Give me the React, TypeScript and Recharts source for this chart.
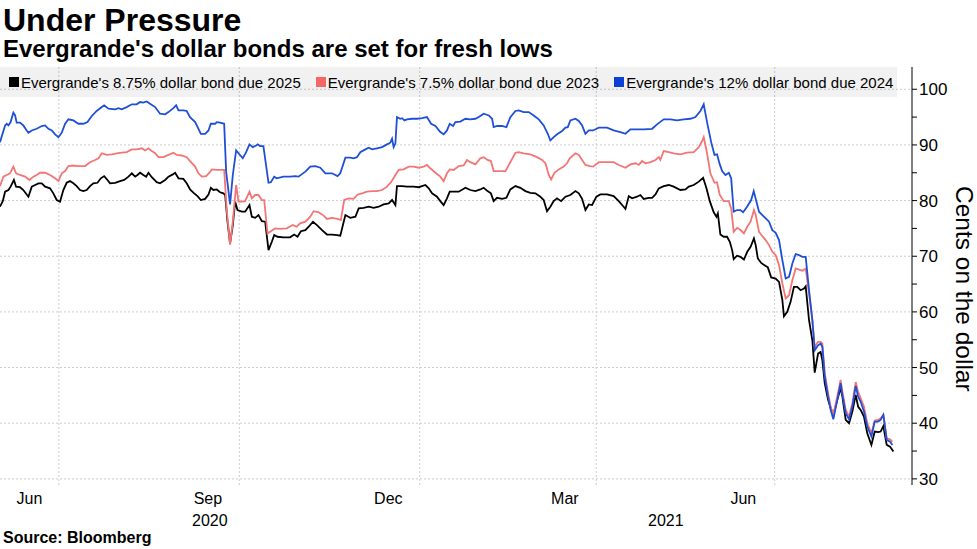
import { LineChart, Line, XAxis, YAxis, CartesianGrid } from 'recharts'

// ─── Data ─────────────────────────────────────────────────────────────────────
// x values are days since 2020-06-01

const START = Date.UTC(2020, 5, 1)
const dayOf = (iso: string) => (Date.parse(iso + 'T00:00:00Z') - START) / 86400000

const seriesNames = [
  "Evergrande's 8.75% dollar bond due 2025",
  "Evergrande's 7.5% dollar bond due 2023",
  "Evergrande's 12% dollar bond due 2024",
]
const seriesColors = ['#000000', '#f47575', '#1f4fd6']
const legendColors = ['#000000', '#f76666', '#0a3fd8']

const bond2025Days = [
  0, 1.4, 2.6, 4.3, 5.4, 7.1, 8.2, 10.2, 11.9, 13.6, 14.5, 16.2, 17.9, 19.6, 21.3, 23, 25.5, 27.2, 28.9, 30.6,
  32.3, 34, 35.7, 37.4, 39.1, 40.8, 42.5, 44.2, 45.9, 47.6, 49.7, 51.4, 53.1, 54.8, 56.1, 58.7, 61.2, 63.3, 65.5,
  67.2, 68.9, 70.1, 71.4, 73.1, 74.5, 75.7, 77.4, 79.9, 81.6, 84.2, 85.9, 88.1, 89.3, 91, 93.5, 95.2, 96.9, 99,
  100.7, 102.4, 104.6, 106.3, 107.5, 108.8, 110.5, 112.2, 113.9, 114.8, 116, 117.3, 118.7, 119.9, 121.1, 123.3,
  125, 127.2, 128.4, 130.1, 131.8, 133.5, 135.2, 136.9, 138.6, 139.8, 141.5, 144.5, 147.9, 150, 151.7, 153.4,
  155.7, 157.4, 159.6, 161.6, 164.2, 166.7, 169.3, 171.8, 173.5, 176.1, 178.6, 181.2, 182.9, 185.4, 188, 190.5,
  193.1, 195.6, 198.2, 199.9, 201.6, 202.4, 205, 207.5, 210.9, 213.5, 216.9, 218.6, 220.3, 222.8, 224.5, 226.2,
  227.9, 229.3, 231.3, 233.9, 237.3, 239.8, 242.4, 244.9, 246.6, 248.6, 250.3, 251.7, 253.4, 256, 258.2, 260.2,
  262.8, 265.3, 267.9, 270.4, 273, 275.5, 277.2, 278.9, 280.6, 282.3, 284, 286.1, 288.3, 290.8, 293.4, 295.1,
  296.8, 298.5, 300.2, 301.9, 304.1, 306.1, 309.5, 312.9, 315.5, 317.2, 318.9, 320.6, 322.3, 324.8, 326.5, 328.2,
  330.8, 332.5, 334.2, 335.9, 338.4, 341, 343.5, 346.9, 349.5, 351.2, 353.7, 356.3, 358.5, 360.2, 361.9, 363.9,
  365.3, 366, 367.3, 369, 370.7, 372.1, 373.3, 374.1, 375.8, 377.5, 379.3, 381, 382.7, 384.4, 385.3, 386.4, 388.1,
  389.8, 391.5, 393.2, 395.5, 397.2, 398.9, 399.7, 401.4, 403.1, 404.8, 406.5, 408.2, 409.9, 410.8, 412.5, 414.2,
  415.4, 417.1, 418.4, 419.3, 420.5, 422.2, 423.9, 424.9, 426.9, 428.6, 429.5, 431.2, 432.9, 434.6, 436.3, 437.5,
  438.8, 440.5, 442.2, 444.3, 446, 447.7, 449, 450.4, 452.1, 453.8, 455.5,
]
const bond2025Values = [
  78.9, 79.9, 81.6, 81.9, 82.5, 83.7, 82.5, 82.4, 81.9, 81.1, 80.7, 82.5, 82.8, 83.1, 83.1, 82.5, 82.2, 81.3, 80.1, 79.8,
  81.9, 83.2, 83.5, 83.1, 82.6, 81.9, 81.7, 81.9, 82.6, 83.1, 83.2, 84.0, 84.4, 83.7, 83.1, 83.2, 83.5, 83.7, 84.3,
  84.9, 84.3, 84.6, 85.0, 84.6, 84.3, 85.0, 84.2, 83.3, 83.1, 83.7, 84.3, 84.7, 85.0, 84.0, 83.9, 83.1, 82.0, 81.3,
  80.8, 80.1, 80.3, 81.1, 82.3, 81.9, 82.0, 81.5, 81.3, 81.0, 76.2, 72.3, 75.6, 79.8, 78.3, 78.0,
  78.0, 79.2, 77.1, 76.9, 77.4, 76.3, 76.2, 71.1, 72.6, 73.8, 73.5, 73.4, 73.4, 73.9, 73.5, 74.5,
  74.7, 75.3, 76.2, 75.6, 74.7, 73.9, 73.9, 73.8, 73.7, 77.4, 76.9, 77.1, 78.6, 78.7, 78.9, 78.7,
  78.9, 79.3, 79.5, 80.1, 79.2, 82.6, 82.6, 82.5, 82.5, 82.4, 82.8, 82.2, 81.3, 80.7, 79.9, 79.2,
  80.4, 81.6, 81.6, 81.6, 82.3, 81.9, 81.7, 82.0, 82.3, 81.7, 81.3, 79.9, 80.5, 80.3, 80.5, 82.0,
  82.6, 82.3, 81.7, 81.4, 81.3, 80.7, 80.1, 78.1, 78.9, 79.9, 80.4, 79.9, 80.7, 81.0, 81.7, 81.3,
  80.3, 78.3, 79.3, 79.2, 80.7, 81.1, 81.1, 80.8, 79.9, 79.2, 78.5, 80.8, 80.4, 80.7, 81.0, 80.3,
  80.5, 80.5, 81.1, 82.2, 82.6, 82.8, 82.5, 81.9, 82.0, 82.5, 82.8, 83.4, 84.1, 82.2, 79.9, 77.9,
  77.1, 77.7, 73.9, 73.5, 73.5, 72.6, 71.1, 69.5, 70.1, 69.9, 69.4, 70.8, 71.7, 73.2, 72.0, 69.6, 68.8,
  68.4, 68.0, 66.2, 66.0, 65.4, 62.1, 59.2, 60.0, 61.8, 64.5, 64.5, 63.9, 64.2, 64.6, 58.5, 54.9,
  49.1, 52.5, 52.8, 51.3, 47.2, 44.2, 42.4, 41.5, 44.2, 46.3, 44.8, 40.6, 40.0, 42.1, 45.1, 43.0,
  42.4, 41.2, 38.2, 36.1, 38.5, 38.4, 38.5, 39.5, 36.1, 35.8, 34.9,
]

const bond2023Days = [
  0, 1.7, 3.4, 5.1, 6.8, 8.2, 10.2, 12.8, 15, 17, 18.7, 20.4, 23, 25.5, 28.1, 29.8, 31.5, 33.2, 34.9, 37.4, 40,
  43.4, 45.9, 48.5, 50.2, 51.9, 54.4, 57, 59.5, 62.1, 64.6, 67.2, 69.7, 72.3, 74, 75.7, 77.4, 79.1, 80.8, 83.3,
  85.9, 88.4, 90.1, 92.7, 95.2, 96.9, 99.5, 101.2, 102.9, 105.1, 106.8, 108, 110.5, 114.3, 115.6, 117.3, 118.7,
  120.4, 121.6, 123.3, 125, 127.2, 128.4, 130.1, 131.8, 133.5, 134.7, 136.4, 138.1, 140.3, 142.8, 146.2, 149.3,
  151.3, 153, 155.7, 158.2, 159.9, 162.5, 165, 166.7, 169.3, 172.1, 173.8, 175.5, 177.8, 180.3, 182.4, 184.6,
  187.1, 189.7, 192.2, 194.8, 197.3, 199.4, 201.6, 203.3, 205.8, 208.4, 210.9, 213.5, 216, 217.7, 219.4, 222,
  224.5, 226.2, 227.9, 229.3, 231.3, 233.9, 236.4, 238.1, 239.8, 242.4, 244.9, 246.6, 248.6, 250.3, 251.7, 254.3,
  257.7, 259.9, 262.8, 264.5, 267, 270.4, 273.8, 276.4, 278.1, 279.8, 281, 282.7, 284.9, 287.4, 289.1, 290.5,
  293.4, 295.1, 296.8, 298.5, 300.7, 302.4, 305.3, 309.5, 312.9, 315.5, 318.9, 321.4, 324, 325.7, 327.4, 329.1,
  331.6, 334.2, 335.9, 336.7, 338.4, 341, 343.5, 346.9, 350.3, 353.7, 356.3, 358, 358.8, 360.5, 362.2, 364.3,
  365.6, 367, 369, 371.6, 372.8, 374.1, 375.8, 377.6, 379.3, 381, 382.7, 384.4, 385.3, 387, 388.7, 390.4, 392.1,
  393.8, 395.5, 397.2, 398.9, 400.6, 402.3, 404, 405.7, 407.4, 409.1, 410.8, 412.5, 414.2, 415.4, 417.1, 418.4,
  419.3, 420.5, 422.2, 423.5, 424.9, 426.9, 428.6, 429.5, 431.2, 432.9, 434.6, 436.3, 437.5, 438.8, 440.5, 442.2,
  444.3, 446, 447.7, 449, 450.4, 452.1, 453.8, 455,
]
const bond2023Values = [
  82.6, 84.3, 84.6, 84.9, 86.1, 84.9, 84.6, 84.3, 83.7, 84.3, 84.6, 85.0, 85.0, 84.6, 84.0, 83.5, 84.9, 85.3, 86.2, 86.3, 86.2,
  86.2, 86.9, 87.3, 87.6, 88.5, 88.2, 88.3, 88.5, 88.6, 88.7, 89.2, 89.2, 89.4, 89.0, 89.4, 88.9, 88.5, 87.8, 87.8,
  88.2, 88.6, 88.2, 88.1, 87.8, 87.1, 86.1, 84.9, 84.3, 84.4, 85.0, 85.6, 85.5, 85.5, 78.3, 72.1, 76.2,
  82.8, 79.8, 79.8, 79.9, 81.6, 80.4, 81.0, 81.0, 80.1, 80.1, 74.1, 74.5, 75.0, 74.9, 75.0, 75.6,
  75.3, 75.9, 76.2, 77.1, 78.1, 77.9, 77.3, 76.7, 76.9, 76.7, 76.5, 80.1, 80.4, 80.3, 81.1, 81.3,
  81.6, 81.7, 81.7, 81.9, 82.5, 83.3, 84.6, 85.5, 85.6, 86.1, 86.1, 85.9, 86.1, 86.4, 85.8, 85.0,
  84.3, 83.5, 84.9, 85.6, 85.5, 86.2, 86.3, 87.3, 86.9, 86.5, 87.6, 87.8, 87.3, 87.1, 85.3, 85.3,
  85.3, 86.7, 88.6, 88.7, 88.5, 88.3, 87.8, 87.3, 86.7, 84.6, 83.8, 85.0, 85.6, 86.1, 86.7, 87.6,
  88.5, 88.2, 87.3, 86.4, 86.2, 86.1, 86.9, 86.9, 86.9, 86.4, 85.9, 86.5, 86.7, 86.4, 87.1, 86.7,
  86.9, 87.3, 87.8, 87.3, 88.9, 88.7, 88.5, 88.3, 88.6, 88.7, 89.6, 90.7, 91.4, 88.5, 84.9, 83.2,
  83.3, 81.0, 79.9, 79.9, 78.6, 74.4, 75.1, 74.7, 74.1, 75.3, 76.2, 78.3, 77.4, 74.4, 73.6, 72.9, 72.0,
  70.8, 70.2, 68.4, 65.1, 62.4, 63.0, 65.7, 67.8, 67.6, 67.4, 67.8, 63.3, 58.5, 53.7, 54.6, 54.6,
  54.3, 49.0, 45.4, 43.0, 41.5, 44.8, 47.8, 45.7, 42.4, 41.2, 43.6, 47.4, 45.7, 44.5, 43.0, 40.0,
  38.2, 40.5, 40.6, 40.9, 41.5, 37.3, 37.1, 36.7,
]

const bond2024Days = [
  0, 2.6, 3.4, 4.3, 5.4, 6.8, 7.7, 8.5, 10.2, 11.9, 13.6, 14.5, 16.2, 18.7, 21.3, 23, 24.7, 26.4, 28.1, 29.8, 31.5,
  33.2, 34.9, 37.4, 40, 42.5, 44.6, 46.8, 49.3, 51.9, 53.1, 55.3, 58.7, 60.4, 62.1, 64.6, 67.2, 69.7, 71.4, 73.1,
  74.8, 76.5, 79.1, 81.6, 84.2, 85.9, 88.4, 89.8, 91, 93.5, 95.2, 96.9, 99.5, 101.2, 102.4, 104.6, 106.3, 107.5,
  109.7, 110.5, 112.2, 114.3, 115.3, 117.3, 118.7, 120.4, 121.6, 123.8, 125.5, 127.2, 128.9, 130.6, 131.4, 132.6,
  134.3, 136.9, 138.1, 139.8, 141.1, 144.5, 147.9, 150.5, 152.2, 155.7, 158.2, 160.8, 163.3, 165.9, 169.3, 172.1,
  173.5, 176.1, 178.6, 180.3, 182, 183.7, 186.3, 188, 189.7, 192.2, 194.8, 197.3, 199, 199.9, 200.7, 201.6, 202.4,
  204.1, 205, 206.2, 207.5, 210.1, 212.6, 215.2, 217.7, 219.8, 222, 224.5, 226.2, 227.9, 229.3, 231, 232.2, 234.7,
  237.3, 239.8, 242.4, 244.1, 246.6, 249.2, 250.9, 251.7, 253.4, 256, 258.2, 260.2, 262.8, 264.5, 267, 269.6,
  272.1, 274.7, 277.2, 279.3, 280.6, 282.3, 284.4, 286.6, 288.3, 289.5, 290.8, 293.4, 295.1, 296.8, 298.5, 300.2,
  302.4, 305.3, 309.5, 312.9, 316.3, 318.9, 321.4, 324.8, 328.2, 332.5, 335, 338.4, 341.8, 345.2, 348.6, 352,
  354.6, 357.1, 358.8, 360.5, 362.6, 364.3, 365.6, 367, 368.2, 369.9, 371.6, 372.8, 374.1, 375.8, 377.5, 378.9,
  380.9, 383, 384.3, 385.7, 387, 388.7, 390.4, 392.1, 393.8, 395.5, 397.2, 398.9, 400.6, 402.3, 404, 405.7, 407.4,
  409.1, 410.8, 412.5, 414.2, 415.4, 417.1, 418.4, 419.3, 420.5, 422.2, 423.5, 424.9, 426.9, 428.6, 429.5, 431.2,
  432.9, 434.6, 436.3, 437.5, 438.8, 440.5, 442.2, 444.3, 446, 447.7, 449, 450.4, 452.1, 453.8, 455,
]
const bond2024Values = [
  90.5, 93.5, 93.8, 93.5, 94.1, 95.8, 95.3, 94.0, 94.0, 93.5, 92.6, 92.2, 92.6, 92.9, 93.4, 93.5, 92.9, 92.6, 91.9, 91.4, 92.2,
  93.8, 94.6, 94.4, 93.8, 93.8, 94.1, 95.2, 96.1, 96.8, 97.1, 96.5, 96.4, 96.6, 96.4, 96.8, 97.3, 97.3, 97.7, 97.6,
  97.8, 97.4, 96.8, 95.6, 95.5, 95.9, 96.6, 97.1, 96.2, 96.2, 96.1, 95.0, 94.1, 92.9, 92.0, 92.0, 92.6, 93.8,
  93.8, 94.1, 94.0, 93.8, 85.2, 79.3, 84.6, 89.0, 88.5, 87.6, 88.7, 90.1, 89.6, 89.9, 90.1, 89.8,
  89.8, 83.2, 83.3, 84.3, 84.0, 84.3, 84.3, 84.4, 84.3, 85.2, 86.1, 86.2, 85.9, 84.9, 84.9, 84.4,
  84.9, 87.7, 87.7, 87.6, 87.8, 88.7, 89.2, 89.5, 89.2, 89.4, 89.6, 90.1, 90.4, 91.1, 89.6, 90.3, 95.0,
  94.7, 94.8, 94.4, 94.6, 94.7, 94.7, 94.8, 95.0, 93.8, 93.4, 92.3, 91.9, 92.6, 93.8, 93.4, 94.1, 94.2,
  94.7, 94.6, 94.7, 95.0, 95.6, 95.3, 94.7, 93.2, 93.4, 93.4, 93.2, 95.0, 96.1, 96.2, 95.9, 95.9,
  95.3, 94.6, 93.5, 92.0, 90.8, 91.4, 92.0, 92.5, 93.1, 93.2, 94.4, 94.7, 94.3, 93.5, 92.0, 92.6,
  92.6, 93.1, 93.1, 92.6, 92.3, 92.0, 92.8, 92.8, 92.8, 92.9, 93.7, 94.6, 94.6, 94.4, 94.6, 94.7,
  95.0, 96.1, 97.3, 94.1, 90.5, 88.2, 88.3, 86.5, 85.3, 84.6, 85.0, 84.0, 78.0, 78.3, 78.3, 77.9,
  78.9, 80.1, 81.7, 79.8, 78.0, 77.4, 76.8, 76.2, 74.7, 74.2, 72.9, 69.3, 66.0, 66.3, 68.7, 70.4, 70.2,
  69.9, 69.9, 63.9, 58.5, 53.1, 54.0, 54.3, 53.7, 48.4, 44.8, 42.4, 40.7, 44.2, 47.2, 45.1, 41.8,
  40.7, 43.0, 46.7, 44.8, 43.9, 42.1, 39.4, 37.6, 40.3, 40.3, 40.6, 41.5, 37.0, 36.7, 36.1,
]

const monthTickDates = ['2020-06-16', '2020-09-15', '2020-12-16', '2021-03-16', '2021-06-15']
const monthTickLabels = ['Jun', 'Sep', 'Dec', 'Mar', 'Jun']
const gridDates = ['2020-07-01', '2020-10-01', '2021-01-01', '2021-04-01', '2021-07-01']
const yearLabels = ['2020', '2021']
const yTicks = [30, 35, 40, 45, 50, 55, 60, 65, 70, 75, 80, 85, 90, 95, 100]

// ─── Helpers ─────────────────────────────────────────────────────────────────

const X_END = 465
const Y_DOMAIN: [number, number] = [28.9, 104]

const zip = (days: number[], values: number[]) => days.map((day, i) => ({ day, value: values[i] }))

const seriesData = [
  zip(bond2025Days, bond2025Values),
  zip(bond2023Days, bond2023Values),
  zip(bond2024Days, bond2024Values),
]

const monthTicks = monthTickDates.map(dayOf)
const gridDays = gridDates.map(dayOf)
const yearStart2021 = dayOf('2021-01-01')
const yearTicks = [yearStart2021 / 2, (yearStart2021 + X_END) / 2]

const FONT = "'Liberation Sans', Arial, sans-serif"

// ─── Component ────────────────────────────────────────────────────────────────

export default function App() {
  return (
    <div style={{ position: 'relative', width: 977, height: 549, background: '#fff', fontFamily: FONT, color: '#000' }}>
      <style>{'body{margin:0}'}</style>
      <div style={{ position: 'absolute', left: 3, top: 4, fontSize: 32, fontWeight: 700, lineHeight: 1 }}>
        Under Pressure
      </div>
      <div style={{ position: 'absolute', left: 3, top: 37, fontSize: 24, fontWeight: 700, lineHeight: 1, whiteSpace: 'nowrap' }}>
        Evergrande's dollar bonds are set for fresh lows
      </div>

      <div style={{ position: 'absolute', left: 0, top: 0 }}>
        <LineChart width={977} height={549} margin={{ top: 67, right: 0, left: 0, bottom: 18 }}>
          <CartesianGrid
            xAxisId="month"
            stroke="#cccccc"
            strokeDasharray="2 2"
            verticalValues={gridDays}
            horizontalValues={[30, 40, 50, 60, 70, 80, 90, 100]}
          />
          <XAxis
            xAxisId="month"
            type="number"
            dataKey="day"
            domain={[0, X_END]}
            allowDataOverflow
            ticks={monthTicks}
            tickFormatter={(v: number) => monthTickLabels[monthTicks.indexOf(v)] ?? ''}
            tick={{ fontSize: 16, fill: '#000', fontFamily: FONT }}
            tickLine={false}
            axisLine={false}
            height={22}
          />
          <XAxis
            xAxisId="year"
            type="number"
            dataKey="day"
            domain={[0, X_END]}
            allowDataOverflow
            ticks={yearTicks}
            tickFormatter={(v: number) => yearLabels[yearTicks.indexOf(v)] ?? ''}
            tick={{ fontSize: 16, fill: '#000', fontFamily: FONT }}
            tickLine={false}
            axisLine={false}
            height={24}
          />
          <YAxis
            orientation="right"
            type="number"
            domain={Y_DOMAIN}
            allowDataOverflow
            ticks={yTicks}
            interval={0}
            tickFormatter={(v: number) => (v % 10 === 0 ? String(v) : '')}
            tick={{ fontSize: 17, fill: '#000', fontFamily: FONT }}
            tickLine={{ stroke: '#000' }}
            axisLine={{ stroke: '#000' }}
            tickSize={5}
            width={65}
          />
          {seriesData.map((data, i) => (
            <Line
              key={seriesNames[i]}
              xAxisId="month"
              data={data}
              dataKey="value"
              type="linear"
              stroke={seriesColors[i]}
              strokeWidth={1.8}
              dot={false}
              isAnimationActive={false}
            />
          ))}
        </LineChart>
      </div>

      <div
        style={{
          position: 'absolute',
          left: 0,
          top: 67,
          width: 897,
          height: 30,
          background: 'rgba(0,0,0,0.055)',
          display: 'flex',
          alignItems: 'center',
          paddingLeft: 9,
          boxSizing: 'border-box',
          fontSize: 15,
          whiteSpace: 'nowrap',
        }}
      >
        {seriesNames.map((name, i) => (
          <div
            key={name}
            style={{ display: 'flex', alignItems: 'center', flexShrink: 0, marginRight: i < seriesNames.length - 1 ? 15 : 0 }}
          >
            <span style={{ width: 10, height: 10, background: legendColors[i], marginRight: 2, display: 'inline-block' }} />
            <span>{name}</span>
          </div>
        ))}
      </div>

      <div
        style={{
          position: 'absolute',
          left: 950,
          top: 186,
          writingMode: 'vertical-rl',
          fontSize: 24.5,
          lineHeight: 1.15,
          whiteSpace: 'nowrap',
        }}
      >
        Cents on the dollar
      </div>

      <div style={{ position: 'absolute', left: 3, top: 529, fontSize: 16, fontWeight: 700, lineHeight: 1.15 }}>
        Source: Bloomberg
      </div>
    </div>
  )
}
